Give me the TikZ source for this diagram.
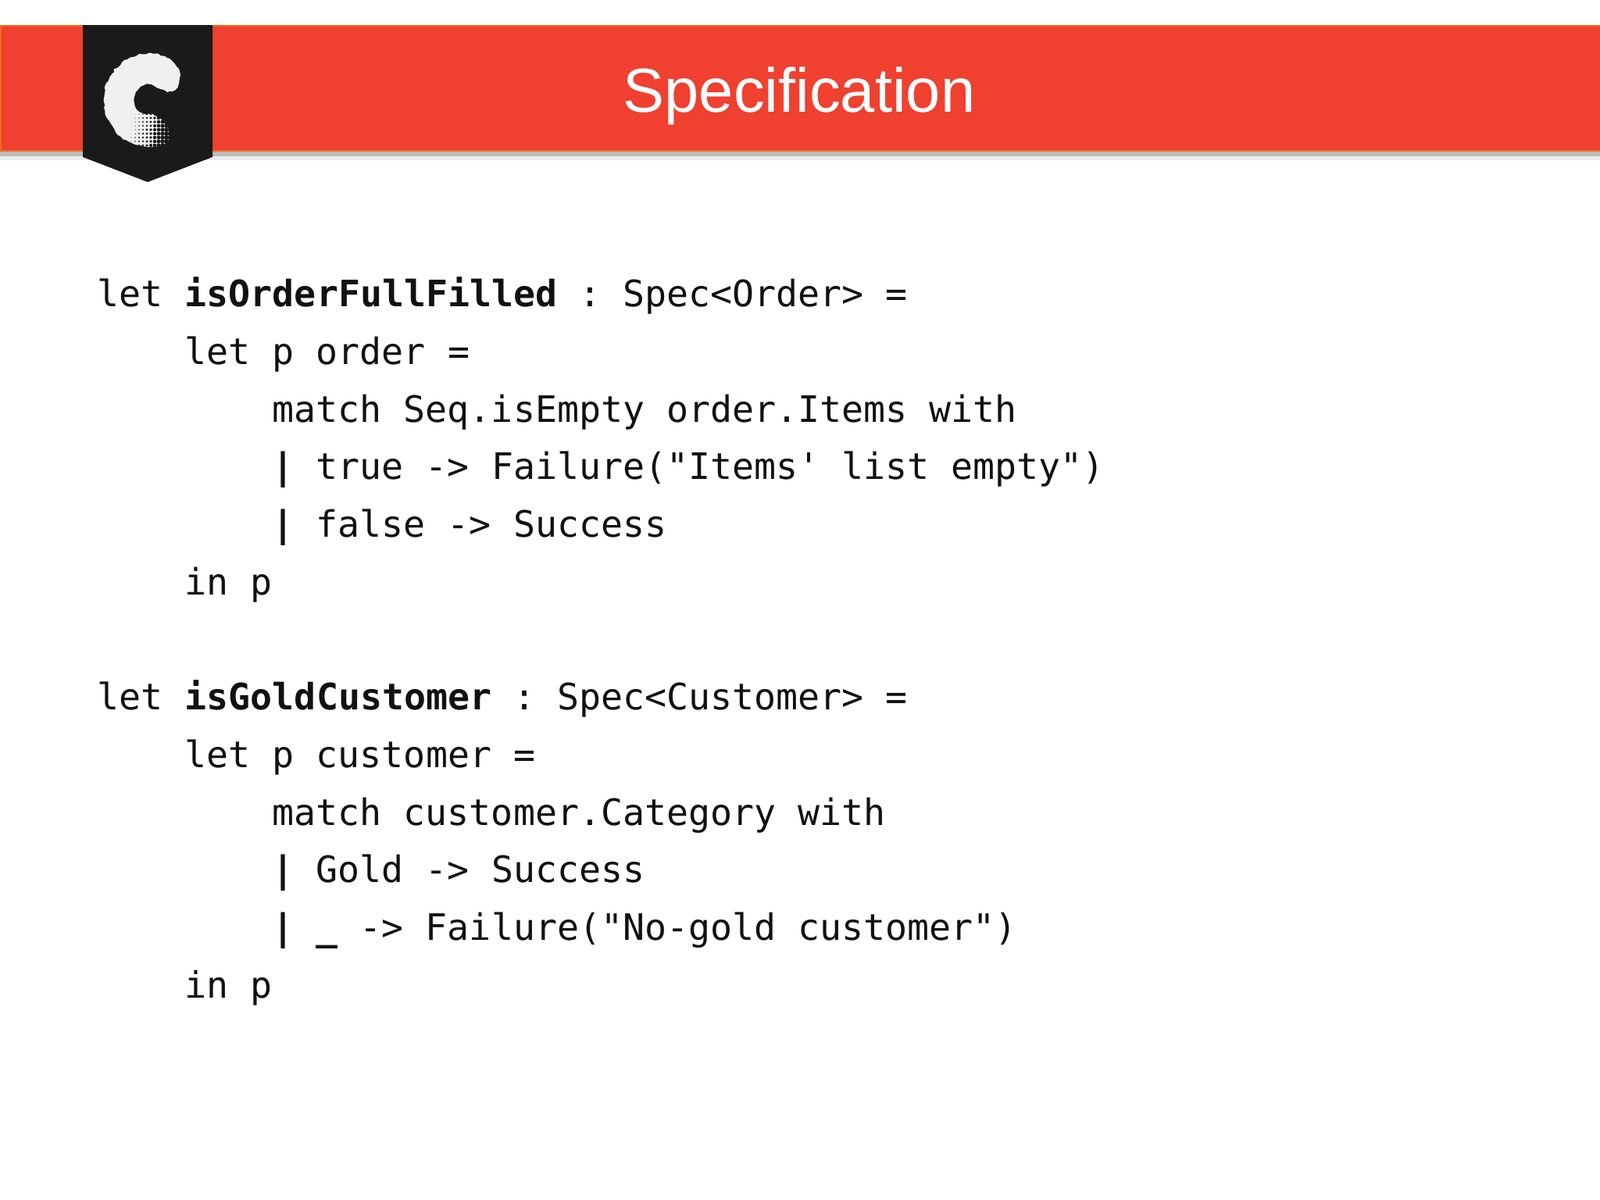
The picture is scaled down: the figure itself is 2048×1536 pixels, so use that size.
\documentclass[tikz,border=0pt]{standalone}
\usepackage{fontspec}
\setmainfont{Liberation Sans}
\setmonofont{DejaVu Sans Mono}
\usepackage{xcolor}
\usetikzlibrary{decorations.pathmorphing}
\definecolor{bannerred}{HTML}{EF4030}
\definecolor{bannerline}{HTML}{EE6A1C}
\definecolor{badgeblack}{HTML}{1A1A1A}
\definecolor{codeblack}{HTML}{111111}
\tikzset{
  codeline/.style={anchor=base west, inner sep=0pt, text=codeblack, font=\ttfamily\fontsize{13.24pt}{16pt}\selectfont},
  titletext/.style={anchor=base, inner sep=0pt, text=white, font=\fontsize{22.6pt}{27pt}\selectfont},
  logofuzz/.style={decorate, decoration={random steps, segment length=1.2pt, amplitude=0.35pt}}
}
\begin{document}
\begin{tikzpicture}[x=0.01cm, y=-0.01cm]
            \useasboundingbox (0, 0) rectangle (2048, 1536);
            \fill[white] (0, 0) rectangle (2048, 1536);

            % banner
            \fill[black!8] (0, 198) rectangle (2048, 205);
            \fill[black!27] (0, 193) rectangle (2048, 200);
            \fill[bannerline] (0, 32) rectangle (2048, 194);
            \fill[bannerred] (2, 34) rectangle (2048, 192);
            \node[titletext] (title) at (1023, 143) {Specification};

            % badge
            \fill[badgeblack] (106, 32) -- (272, 32) -- (272, 201) -- (189, 233) -- (106, 201) -- cycle;
            \fill[white!94!black, logofuzz] (229, 88)
                .. controls (222, 76) and (212, 70) .. (196, 69)
                .. controls (160, 66) and (132, 95) .. (133, 130)
                .. controls (134, 162) and (160, 188) .. (190, 188)
                .. controls (203, 188) and (214, 184) .. (222, 176)
                .. controls (214, 162) and (206, 150) .. (196, 147)
                .. controls (180, 146) and (170, 138) .. (172, 125)
                .. controls (174, 112) and (184, 106) .. (194, 109)
                .. controls (204, 113) and (212, 119) .. (220, 117)
                .. controls (228, 113) and (232, 98) .. (229, 88) -- cycle;
            % dithered lower end of the logo
            \foreach \px in {168, 173, ..., 228} {
                \foreach \py in {146, 151, ..., 191} {
                    \fill[badgeblack] (\px, \py) circle ({max(0, (\px - 164) * 0.055 + (\py - 150) * 0.012)});
                }
            }

            % first spec
            \node[codeline] (lineA) at (124, 392) {let \textbf{isOrderFullFilled} : Spec<Order> =};
            \node[codeline] (lineB) at (236, 466) {let p order =};
            \node[codeline] (lineC) at (348, 540) {match Seq.isEmpty order.Items with};
            \node[codeline] (lineD) at (348, 613) {\textbf{|} true -> Failure("Items' list empty")};
            \node[codeline] (lineE) at (348, 687) {\textbf{|} false -> Success};
            \node[codeline] (lineF) at (236, 761) {in p};

            % second spec
            \node[codeline] (lineG) at (124, 908) {let \textbf{isGoldCustomer} : Spec<Customer> =};
            \node[codeline] (lineH) at (236, 982) {let p customer =};
            \node[codeline] (lineI) at (348, 1056) {match customer.Category with};
            \node[codeline] (lineJ) at (348, 1129) {\textbf{|} Gold -> Success};
            \node[codeline] (lineK) at (348, 1203) {\textbf{|} \textbf{\_} -> Failure("No-gold customer")};
            \node[codeline] (lineL) at (236, 1277) {in p};
        \end{tikzpicture}
\end{document}
